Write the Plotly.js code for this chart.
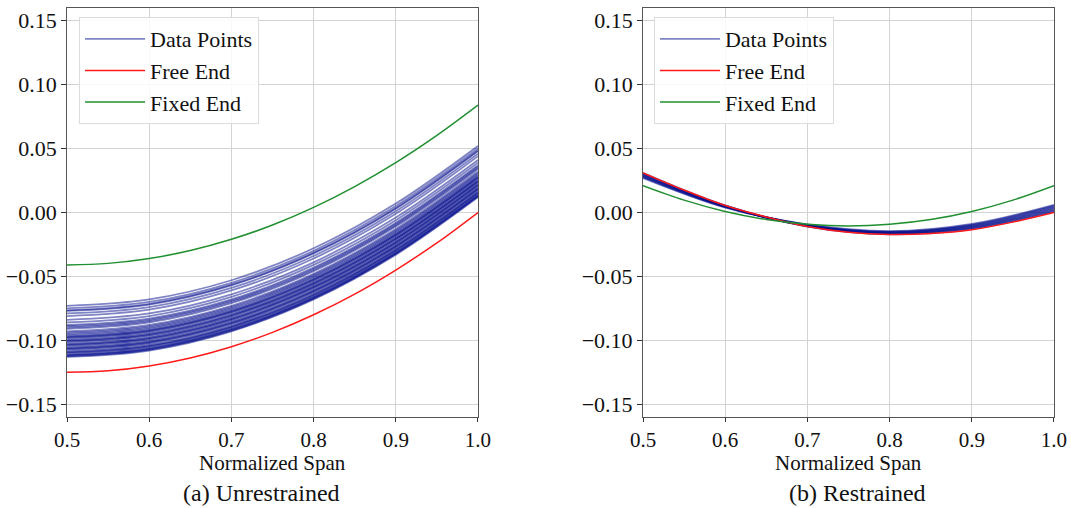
<!DOCTYPE html>
<html>
<head>
<meta charset="utf-8">
<script src="https://cdn.plot.ly/plotly-3.0.1.min.js"></script>
<style>html,body{margin:0;padding:0;background:#fff;}#chart{width:1071px;height:508px;}</style>
</head>
<body>
<div id="chart"></div>
<script>
// Span positions for the sampled curves
const spanCoarse = [0.5, 0.6, 0.7, 0.8, 0.9, 1.0];
const spanFine = [0.5, 0.55, 0.6, 0.65, 0.7, 0.75, 0.8, 0.85, 0.9, 0.95, 1.0];

// (a) Unrestrained
const unrestrainedData = [
  [-0.073,-0.068,-0.053,-0.028,0.007,0.052],
  [-0.075,-0.070,-0.055,-0.030,0.005,0.050],
  [-0.0765,-0.0715,-0.0565,-0.0315,0.0035,0.0485],
  [-0.077,-0.072,-0.057,-0.032,0.003,0.048],
  [-0.079,-0.074,-0.059,-0.034,0.001,0.046],
  [-0.081,-0.076,-0.061,-0.036,-0.001,0.044],
  [-0.084,-0.079,-0.064,-0.039,-0.004,0.041],
  [-0.086,-0.081,-0.066,-0.041,-0.006,0.039],
  [-0.088,-0.083,-0.068,-0.043,-0.008,0.037],
  [-0.089,-0.084,-0.069,-0.044,-0.009,0.036],
  [-0.090,-0.085,-0.070,-0.045,-0.010,0.035],
  [-0.091,-0.086,-0.071,-0.046,-0.011,0.034],
  [-0.093,-0.088,-0.073,-0.048,-0.013,0.032],
  [-0.094,-0.089,-0.074,-0.049,-0.014,0.031],
  [-0.095,-0.090,-0.075,-0.050,-0.015,0.030],
  [-0.096,-0.091,-0.076,-0.051,-0.016,0.029],
  [-0.097,-0.092,-0.077,-0.052,-0.017,0.028],
  [-0.0975,-0.0925,-0.0775,-0.0525,-0.0175,0.0275],
  [-0.098,-0.093,-0.078,-0.053,-0.018,0.027],
  [-0.099,-0.094,-0.079,-0.054,-0.019,0.026],
  [-0.100,-0.095,-0.080,-0.055,-0.020,0.025],
  [-0.1005,-0.0955,-0.0805,-0.0555,-0.0205,0.0245],
  [-0.101,-0.096,-0.081,-0.056,-0.021,0.024],
  [-0.102,-0.097,-0.082,-0.057,-0.022,0.023],
  [-0.103,-0.098,-0.083,-0.058,-0.023,0.022],
  [-0.1035,-0.0985,-0.0835,-0.0585,-0.0235,0.0215],
  [-0.104,-0.099,-0.084,-0.059,-0.024,0.021],
  [-0.105,-0.100,-0.085,-0.060,-0.025,0.020],
  [-0.106,-0.101,-0.086,-0.061,-0.026,0.019],
  [-0.1065,-0.1015,-0.0865,-0.0615,-0.0265,0.0185],
  [-0.107,-0.102,-0.087,-0.062,-0.027,0.018],
  [-0.108,-0.103,-0.088,-0.063,-0.028,0.017],
  [-0.109,-0.104,-0.089,-0.064,-0.029,0.016],
  [-0.1095,-0.1045,-0.0895,-0.0645,-0.0295,0.0155],
  [-0.110,-0.105,-0.090,-0.065,-0.030,0.015],
  [-0.111,-0.106,-0.091,-0.066,-0.031,0.014],
  [-0.1115,-0.1065,-0.0915,-0.0665,-0.0315,0.0135],
  [-0.112,-0.107,-0.092,-0.067,-0.032,0.013],
  [-0.1125,-0.1075,-0.0925,-0.0675,-0.0325,0.0125],
  [-0.113,-0.108,-0.093,-0.068,-0.033,0.012]
];
const unrestrainedFree = [-0.125,-0.1238,-0.120,-0.1138,-0.105,-0.0938,-0.080,-0.0638,-0.045,-0.0238,0.000];
const unrestrainedFixed = [-0.041,-0.0398,-0.036,-0.0298,-0.021,-0.0098,0.004,0.0203,0.039,0.0603,0.084];

// (b) Restrained
const restrainedData = [
  [0.0310,0.0055,-0.0110,-0.0170,-0.0130,0.0005],
  [0.0305,0.0053,-0.0108,-0.0167,-0.0125,0.0012],
  [0.0300,0.0051,-0.0106,-0.0164,-0.0120,0.0019],
  [0.0295,0.0049,-0.0104,-0.0161,-0.0115,0.0026],
  [0.0290,0.0047,-0.0102,-0.0158,-0.0110,0.0033],
  [0.0285,0.0045,-0.0100,-0.0155,-0.0105,0.0040],
  [0.0280,0.0043,-0.0098,-0.0152,-0.0100,0.0047],
  [0.0275,0.0041,-0.0096,-0.0149,-0.0095,0.0054],
  [0.0270,0.0039,-0.0094,-0.0146,-0.0090,0.0060]
];
const restrainedFree = [0.031,0.0175,0.0055,-0.0035,-0.0110,-0.0155,-0.0172,-0.0165,-0.0135,-0.0075,0.000];
const restrainedFixed = [0.021,0.0097,0.0008,-0.0055,-0.0092,-0.0105,-0.0092,-0.0055,0.0008,0.0097,0.021];

const yTicks = [-0.15,-0.10,-0.05,0.00,0.05,0.10,0.15];
const xTicks = [0.5,0.6,0.7,0.8,0.9,1.0];
const seriesNames = ['Data Points','Free End','Fixed End'];
const xTitle = 'Normalized Span';
const captions = ['(a) Unrestrained','(b) Restrained'];

const FONT = "'Liberation Serif', 'Times New Roman', serif";
const dataColor = 'rgba(0,10,139,0.5)';
const freeColor = '#ff1a1a';
const fixedColor = '#1f8f2f';

const traces = [];
function addPanel(dataRows, free, fixed, xa, ya, leg) {
  dataRows.forEach((row, i) => {
    traces.push({x: spanCoarse, y: row, xaxis: xa, yaxis: ya, type: 'scatter', mode: 'lines',
      line: {color: dataColor, width: 1.8, shape: 'spline'}, name: seriesNames[0],
      legendgroup: 'data', showlegend: i === 0, legend: leg, hoverinfo: 'skip'});
  });
  traces.push({x: spanFine, y: free, xaxis: xa, yaxis: ya, type: 'scatter', mode: 'lines',
    line: {color: freeColor, width: 1.5, shape: 'spline'}, name: seriesNames[1], legendgroup: 'free', legend: leg});
  traces.push({x: spanFine, y: fixed, xaxis: xa, yaxis: ya, type: 'scatter', mode: 'lines',
    line: {color: fixedColor, width: 1.5, shape: 'spline'}, name: seriesNames[2], legendgroup: 'fixed', legend: leg});
}
addPanel(unrestrainedData, unrestrainedFree, unrestrainedFixed, 'x', 'y', 'legend');
addPanel(restrainedData, restrainedFree, restrainedFixed, 'x2', 'y2', 'legend2');

function xAxis(domain, anchor) {
  return {domain: domain, anchor: anchor, range: [0.5, 1.0], tickvals: xTicks, tickformat: '.1f',
    showgrid: true, gridcolor: '#d3d3d3', gridwidth: 1, zeroline: false,
    showline: true, mirror: true, linecolor: '#555', linewidth: 1,
    ticks: 'outside', ticklen: 4, tickcolor: '#333',
    tickfont: {family: FONT, size: 21, color: '#111'}};
}
function yAxis(anchor) {
  return {domain: [0.1791, 0.9843], anchor: anchor, range: [-0.16, 0.16], tickvals: yTicks, tickformat: '.2f',
    showgrid: true, gridcolor: '#d3d3d3', gridwidth: 1, zeroline: false,
    showline: true, mirror: true, linecolor: '#555', linewidth: 1,
    ticks: 'outside', ticklen: 5, tickcolor: '#333',
    tickfont: {family: FONT, size: 22, color: '#111'}};
}
const legendStyle = (x) => ({x: x, y: 0.9665, xanchor: 'left', yanchor: 'top', xref: 'paper', yref: 'paper',
  bgcolor: 'rgba(255,255,255,0.85)', bordercolor: '#dcdcdc', borderwidth: 1,
  font: {family: FONT, size: 22, color: '#111'}, tracegroupgap: 0, itemwidth: 60});

const ann = (text, x, y, size) => ({text: text, x: x, y: y, xref: 'paper', yref: 'paper', showarrow: false,
  xanchor: 'center', yanchor: 'middle', font: {family: FONT, size: size, color: '#111'}});

const layout = {
  width: 1071, height: 508, autosize: false,
  margin: {l: 0, r: 0, t: 0, b: 0},
  paper_bgcolor: '#fff', plot_bgcolor: '#fff',
  xaxis: xAxis([0.0626, 0.4463], 'y'),
  yaxis: yAxis('x'),
  xaxis2: xAxis([0.6004, 0.9841], 'y2'),
  yaxis2: yAxis('x2'),
  legend: legendStyle(0.0738),
  legend2: legendStyle(0.6106),
  showlegend: true,
  annotations: [
    ann(xTitle, 0.2545, 0.0886, 21),
    ann(xTitle, 0.7923, 0.0886, 21),
    ann(captions[0], 0.2446, 0.0295, 24),
    ann(captions[1], 0.8011, 0.0295, 24)
  ]
};
Plotly.newPlot('chart', traces, layout, {staticPlot: true, displayModeBar: false});
</script>
</body>
</html>
